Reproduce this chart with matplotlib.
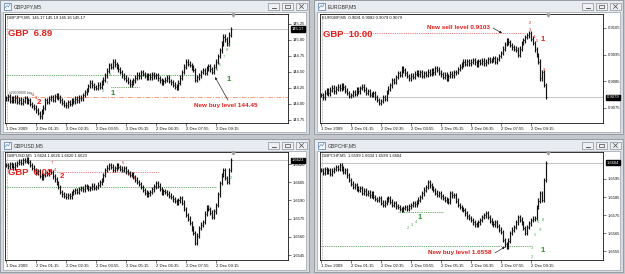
#!/usr/bin/env python3
"""Four MT4 M5 chart windows (GBPJPY, EURGBP, GBPUSD, GBPCHF) with entry-level notes."""

import matplotlib

matplotlib.use("Agg")
import matplotlib.pyplot as plt
import numpy as np
from matplotlib.patches import Rectangle

plt.rcParams["font.family"] = ["Liberation Sans", "DejaVu Sans"]

W, H = 625, 274
INK = "#111111"
RED = "#e3201b"
GREEN = "#2c8c2c"
LIGHT_GREEN = "#4caf50"
SALMON = "#f4a07c"
PRICE_LINE = "#b4b4b4"

TIME_TICKS = [0, 16, 32, 48, 64, 80, 96, 112]
TIME_LABELS = ["1 Dec 2009", "2 Dec 01:15", "2 Dec 02:35", "2 Dec 03:55",
               "2 Dec 05:15", "2 Dec 06:35", "2 Dec 07:55", "2 Dec 09:15"]

# ---- GBPJPY ----
GBPJPY_CLOSE = [
    144.09, 144.12, 144.05, 144.08, 144.06, 144.10, 144.03, 144.07, 144.02, 144.05,
    144.09, 144.04, 144.06, 144.00, 143.97, 143.94, 143.90, 143.86, 143.81, 143.88,
    143.94, 144.06, 144.03, 144.08, 144.11, 144.07, 144.12, 144.14, 144.10, 144.06,
    144.02, 143.99, 143.98, 144.03, 144.00, 144.06, 144.04, 144.08, 144.06, 144.10,
    144.09, 144.14, 144.18, 144.22, 144.28, 144.33, 144.29, 144.26, 144.25, 144.30,
    144.27, 144.33, 144.38, 144.45, 144.52, 144.61, 144.58, 144.66, 144.62, 144.59,
    144.54, 144.50, 144.45, 144.41, 144.38, 144.35, 144.31, 144.33, 144.37, 144.41,
    144.46, 144.43, 144.50, 144.47, 144.44, 144.41, 144.45, 144.42, 144.47, 144.43,
    144.45, 144.40, 144.37, 144.34, 144.36, 144.38, 144.41, 144.36, 144.34, 144.30,
    144.27, 144.25, 144.33, 144.41, 144.50, 144.58, 144.66, 144.63, 144.61, 144.57,
    144.53, 144.38, 144.42, 144.45, 144.50, 144.53, 144.49, 144.55, 144.59, 144.54,
    144.50, 144.58, 144.66, 144.75, 144.84, 144.95, 145.05, 145.01, 144.95, 145.08,
    145.17,
]
GBPJPY_YLIM = (143.703, 145.406)
GBPJPY_TICKS = [145.25, 145.00, 144.75, 144.50, 144.25, 144.00, 143.75]
GBPJPY_LAST = 145.17
GBPJPY_INFO = "GBPJPY,M5  145.17 145.19 145.16 145.17"
GBPJPY_BUY_LEVEL = 144.45
GBPJPY_SETUP_LEVEL = 144.27
GBPJPY_ORDER = 144.11
GBPJPY_MARKS = [  # (bar, price, text, colour, big)
    (57.0, 144.17, "1", "g", True), (119.0, 144.375, "1", "g", True),
    (51.7, 144.21, "2", "lg", False), (53.9, 144.33, "3", "lg", False),
    (55.5, 144.45, "4", "lg", False),
    (112.5, 144.53, "5", "lg", False), (114.0, 144.61, "6", "lg", False),
    (116.0, 144.73, "7", "lg", False), (117.6, 144.84, "8", "lg", False),
    (118.7, 144.92, "9", "lg", False),
    (17.6, 144.02, "2", "r", True), (14.6, 144.14, "4", "r", False),
    (16.0, 144.09, "3", "r", False),
]

# ---- EURGBP ----
EURGBP_CLOSE = [
    0.90799, 0.90790, 0.90808, 0.90815, 0.90805, 0.90818, 0.90826, 0.90812, 0.90822, 0.90830,
    0.90824, 0.90836, 0.90828, 0.90815, 0.90806, 0.90795, 0.90799, 0.90810, 0.90804, 0.90818,
    0.90812, 0.90825, 0.90830, 0.90818, 0.90808, 0.90812, 0.90800, 0.90799, 0.90806, 0.90790,
    0.90780, 0.90769, 0.90776, 0.90790, 0.90785, 0.90810, 0.90822, 0.90835, 0.90855, 0.90848,
    0.90866, 0.90880, 0.90874, 0.90900, 0.90892, 0.90880, 0.90870, 0.90862, 0.90871, 0.90866,
    0.90878, 0.90885, 0.90876, 0.90884, 0.90870, 0.90880, 0.90874, 0.90886, 0.90879, 0.90890,
    0.90884, 0.90900, 0.90893, 0.90882, 0.90876, 0.90868, 0.90875, 0.90862, 0.90870, 0.90878,
    0.90872, 0.90884, 0.90885, 0.90896, 0.90905, 0.90912, 0.90923, 0.90915, 0.90926, 0.90918,
    0.90923, 0.90930, 0.90921, 0.90914, 0.90925, 0.90919, 0.90928, 0.90917, 0.90924, 0.90933,
    0.90926, 0.90930, 0.90936, 0.90923, 0.90934, 0.90945, 0.90956, 0.90972, 0.90990, 0.91005,
    0.90996, 0.90986, 0.90978, 0.90972, 0.90968, 0.90949, 0.90972, 0.90994, 0.91004, 0.91016,
    0.91022, 0.91031, 0.91010, 0.90994, 0.90970, 0.90949, 0.90923, 0.90862, 0.90885, 0.90836,
    0.90791,
]
EURGBP_YLIM = (0.9069375, 0.911025)
EURGBP_TICKS = [0.9105, 0.9095, 0.9085, 0.9075]
EURGBP_LAST = 0.9079
EURGBP_INFO = "EURGBP,M5  0.9081 0.9082 0.9079 0.9079"
EURGBP_SELL_LEVEL = 0.9103
EURGBP_MARKS = [
    (111.5, 0.91069, "2", "r", False), (111.5, 0.91043, "3", "r", False),
    (113.6, 0.91016, "4", "r", False), (115.2, 0.91001, "5", "r", False),
    (118.4, 0.91008, "1", "r", True), (119.0, 0.90893, "9", "r", False),
]

# ---- GBPUSD ----
GBPUSD_CLOSE = [
    1.66192, 1.66180, 1.66200, 1.66190, 1.66172, 1.66195, 1.66208, 1.66220, 1.66212, 1.66233,
    1.66225, 1.66240, 1.66216, 1.66192, 1.66170, 1.66150, 1.66126, 1.66140, 1.66105, 1.66085,
    1.66110, 1.66126, 1.66118, 1.66140, 1.66134, 1.66100, 1.66075, 1.66043, 1.66010, 1.65969,
    1.65950, 1.65940, 1.65928, 1.65945, 1.65935, 1.65961, 1.65975, 1.65986, 1.65970, 1.65995,
    1.66002, 1.65990, 1.66015, 1.66010, 1.65995, 1.66002, 1.66020, 1.66005, 1.66010, 1.66030,
    1.66050, 1.66068, 1.66110, 1.66151, 1.66170, 1.66192, 1.66178, 1.66150, 1.66165, 1.66185,
    1.66175, 1.66160, 1.66150, 1.66165, 1.66140, 1.66126, 1.66110, 1.66118, 1.66093, 1.66070,
    1.66052, 1.66035, 1.66010, 1.65986, 1.65965, 1.65945, 1.65960, 1.65970, 1.65990, 1.66015,
    1.66043, 1.66020, 1.65995, 1.65961, 1.65975, 1.65970, 1.65955, 1.65940, 1.65928, 1.65910,
    1.65895, 1.65879, 1.65900, 1.65920, 1.65880, 1.65830, 1.65780, 1.65750, 1.65714, 1.65670,
    1.65631, 1.65549, 1.65610, 1.65673, 1.65700, 1.65722, 1.65790, 1.65846, 1.65830, 1.65800,
    1.65763, 1.65810, 1.65862, 1.65950, 1.66043, 1.66110, 1.66151, 1.66085, 1.66052, 1.66150,
    1.66230,
]
GBPUSD_YLIM = (1.65409, 1.66299)
GBPUSD_TICKS = [1.6620, 1.6605, 1.6590, 1.6575, 1.6560, 1.6545]
GBPUSD_LAST = 1.6623
GBPUSD_INFO = "GBPUSD,M5  1.6624 1.6626 1.6620 1.6623"
GBPUSD_SELL_LEVEL = 1.66134
GBPUSD_BUY_LEVEL = 1.66010
GBPUSD_MARKS = [
    (29.9, 1.66093, "2", "r", True), (24.5, 1.66208, "7", "r", False),
    (26.1, 1.66151, "4", "r", False), (62.4, 1.66208, "5", "r", False),
    (65.6, 1.66118, "4", "r", False), (68.3, 1.66085, "1", "r", False),
    (120.0, 1.66085, "2", "lg", False),
]

# ---- GBPCHF ----
GBPCHF_CLOSE = [
    1.65999, 1.65985, 1.66005, 1.65989, 1.65998, 1.65980, 1.65995, 1.66005, 1.66016, 1.66005,
    1.66027, 1.66010, 1.65989, 1.65999, 1.65970, 1.65944, 1.65925, 1.65906, 1.65915, 1.65898,
    1.65889, 1.65900, 1.65873, 1.65885, 1.65868, 1.65875, 1.65860, 1.65870, 1.65851, 1.65840,
    1.65834, 1.65845, 1.65820, 1.65806, 1.65820, 1.65835, 1.65845, 1.65825, 1.65806, 1.65815,
    1.65800, 1.65795, 1.65785, 1.65779, 1.65790, 1.65795, 1.65785, 1.65800, 1.65806, 1.65815,
    1.65810, 1.65823, 1.65835, 1.65851, 1.65870, 1.65890, 1.65906, 1.65933, 1.65915, 1.65900,
    1.65889, 1.65875, 1.65862, 1.65870, 1.65855, 1.65845, 1.65835, 1.65830, 1.65823, 1.65873,
    1.65860, 1.65862, 1.65830, 1.65806, 1.65795, 1.65785, 1.65779, 1.65760, 1.65745, 1.65735,
    1.65724, 1.65710, 1.65700, 1.65696, 1.65710, 1.65724, 1.65740, 1.65750, 1.65762, 1.65740,
    1.65720, 1.65707, 1.65700, 1.65713, 1.65690, 1.65670, 1.65657, 1.65613, 1.65590, 1.65575,
    1.65610, 1.65652, 1.65670, 1.65685, 1.65710, 1.65740, 1.65725, 1.65707, 1.65680, 1.65652,
    1.65685, 1.65705, 1.65724, 1.65730, 1.65735, 1.65795, 1.65830, 1.65873, 1.65834, 1.65944,
    1.66038,
]
GBPCHF_YLIM = (1.65503, 1.66099)
GBPCHF_TICKS = [1.6595, 1.6585, 1.6575, 1.6565, 1.6555]
GBPCHF_LAST = 1.6604
GBPCHF_INFO = "GBPCHF,M5  1.6599 1.6604 1.6599 1.6604"
GBPCHF_BUY_LEVEL = 1.6558
GBPCHF_SETUP_LEVEL = 1.65768
GBPCHF_MARKS = [
    (52.8, 1.65740, "1", "g", True), (46.4, 1.65680, "2", "lg", False),
    (48.5, 1.65696, "3", "lg", False), (50.7, 1.65713, "4", "lg", False),
    (112.5, 1.65518, "2", "lg", False), (112.5, 1.65569, "3", "lg", False),
    (114.1, 1.65641, "5", "lg", False), (115.7, 1.65713, "6", "lg", False),
    (116.8, 1.65668, "9", "lg", False), (118.4, 1.65724, "8", "lg", False),
    (118.4, 1.65558, "1", "g", True),
]

MARK_COLORS = {"r": RED, "g": GREEN, "lg": LIGHT_GREEN}


def draw_window(bg, box, title):
    x0, y0, x1, y1 = box
    bg.add_patch(Rectangle((x0, y0), x1 - x0, y1 - y0, fc="#d8dce1", ec="#8d949c", lw=0.6))
    bg.add_patch(Rectangle((x0 + 0.6, y0 + 0.6), x1 - x0 - 1.2, 11.2, fc="#e8ecf1", ec="none"))
    bg.add_patch(Rectangle((x0 + 3, y0 + 12), x1 - x0 - 6, y1 - y0 - 14.5,
                           fc="white", ec="#9aa1a9", lw=0.5))
    bg.add_patch(Rectangle((x0 + 4, y0 + 2.5), 7, 7, fc="#f4f7fb", ec="#4f79a8", lw=0.5))
    bg.plot([x0 + 5, x0 + 7, x0 + 8.5, x0 + 10], [y0 + 8, y0 + 5.5, y0 + 7, y0 + 4],
            color="#4f79a8", lw=0.4)
    bg.text(x0 + 14, y0 + 6.3, title, fontsize=3.7, color="#333333", va="center", ha="left")
    for bx in (x1 - 41, x1 - 27, x1 - 13):
        bg.add_patch(Rectangle((bx, y0 + 3), 11, 7, fc="#eef0f3", ec="#7e858d", lw=0.45))
    m = x1 - 35.5
    bg.plot([m - 2, m + 2], [y0 + 8, y0 + 8], color="#444444", lw=0.6)
    bg.add_patch(Rectangle((x1 - 24, y0 + 4.6), 5, 3.8, fc="none", ec="#444444", lw=0.5))
    c = x1 - 7.5
    bg.plot([c - 2, c + 2], [y0 + 4.5, y0 + 8.5], color="#444444", lw=0.5)
    bg.plot([c - 2, c + 2], [y0 + 8.5, y0 + 4.5], color="#444444", lw=0.5)


def setup_chart(fig, box, closes, ylim, ticks, fmt, last, info):
    x0, y0, x1, y1 = box
    ax = fig.add_axes([x0 / W, 1 - y1 / H, (x1 - x0) / W, (y1 - y0) / H])
    ax.set_facecolor("white")
    ax.set_xlim(-0.5, 150.4)
    ax.set_ylim(*ylim)
    for sp in ax.spines.values():
        sp.set_color(INK)
        sp.set_linewidth(0.6)

    ax.yaxis.tick_right()
    ax.set_yticks(ticks, [fmt.format(t) for t in ticks])
    ax.tick_params(axis="y", length=2, width=0.4, labelsize=3.0, pad=1.2, colors=INK)
    ax.set_xticks(TIME_TICKS, TIME_LABELS, ha="left")
    ax.tick_params(axis="x", length=2, width=0.4, labelsize=3.1, pad=1.0, colors=INK)

    # period separator + current price line
    ax.axvline(0.5, color="#8a8a8a", ls=(0, (1, 1.2)), lw=0.5, zorder=1)
    ax.axhline(last, color=PRICE_LINE, lw=0.55, zorder=1)

    c = np.asarray(closes, dtype=float)
    o = np.r_[c[0], c[:-1]]
    pad = 0.022 * (ylim[1] - ylim[0])
    x = np.arange(len(c))
    ax.vlines(x, np.minimum(o, c) - pad, np.maximum(o, c) + pad, color=INK, lw=0.85, zorder=2)
    ax.hlines(c, x, x + 0.55, color=INK, lw=0.5, zorder=2)
    ax.hlines(o, x - 0.55, x, color="#555555", lw=0.4, zorder=2)

    ax.text(1.012, last, fmt.format(last), transform=ax.get_yaxis_transform(),
            fontsize=3.0, color="white", va="center", ha="left", clip_on=False,
            bbox=dict(fc="black", ec="black", boxstyle="square,pad=0.18"))
    ax.text(0.008, 0.985, info, transform=ax.transAxes, fontsize=3.0, color=INK,
            va="top", ha="left")
    ax.plot([121], [ylim[1] - 0.012 * (ylim[1] - ylim[0])], marker="v", ms=2.2,
            color="#9a9a9a", clip_on=False, zorder=3)
    return ax


def put_marks(ax, marks):
    for i, p, t, col, big in marks:
        ax.text(i, p, t, color=MARK_COLORS[col], fontsize=5.6 if big else 3.0,
                fontweight="bold" if big else "normal", ha="center", va="center", zorder=4)


def level_note(ax, x, y, text, tail, tip):
    ax.text(x, y, text, color=RED, fontsize=4.6, fontweight="bold", ha="center",
            va="center", zorder=4)
    ax.annotate("", xy=tip, xytext=tail, zorder=4,
                arrowprops=dict(arrowstyle="-|>", lw=0.45, color=INK, mutation_scale=3,
                                shrinkA=0, shrinkB=0))


def big_gbp(ax, i, p, text):
    ax.text(i, p, text, color=RED, fontsize=6.8, fontweight="bold", ha="left",
            va="center", zorder=4)


def main():
    fig = plt.figure(figsize=(W / 100, H / 100), dpi=100, facecolor="#c3c7cc")
    bg = fig.add_axes([0, 0, 1, 1])
    bg.set_xlim(0, W)
    bg.set_ylim(H, 0)
    bg.axis("off")
    draw_window(bg, (0, 0, 309, 134), "GBPJPY,M5")
    draw_window(bg, (314, 0, 623, 134), "EURGBP,M5")
    draw_window(bg, (0, 139, 309, 272), "GBPUSD,M5")
    draw_window(bg, (314, 139, 623, 272), "GBPCHF,M5")

    # GBPJPY
    ax = setup_chart(fig, (5, 14, 288, 123), GBPJPY_CLOSE, GBPJPY_YLIM, GBPJPY_TICKS,
                     "{:.2f}", GBPJPY_LAST, GBPJPY_INFO)
    ax.hlines(GBPJPY_BUY_LEVEL, 0, 104, color=GREEN, ls=(0, (1, 1.2)), lw=0.6, zorder=1)
    ax.hlines(GBPJPY_SETUP_LEVEL, 56, 71, color=GREEN, ls=(0, (1, 1.2)), lw=0.6, zorder=1)
    ax.axhline(GBPJPY_ORDER, color=SALMON, ls=(0, (5, 1.5, 1, 1.5)), lw=0.7, zorder=1)
    ax.text(1.6, GBPJPY_ORDER + 0.06, "#20000000 buy", fontsize=2.4, color="#444444",
            ha="left", va="center", zorder=4)
    big_gbp(ax, 1.1, 145.094, "GBP  6.89")
    level_note(ax, 117.3, 143.97, "New buy level 144.45", (118.4, 144.06), (111.5, 144.42))
    put_marks(ax, GBPJPY_MARKS)

    # EURGBP
    ax = setup_chart(fig, (320, 14, 603, 123), EURGBP_CLOSE, EURGBP_YLIM, EURGBP_TICKS,
                     "{:.4f}", EURGBP_LAST, EURGBP_INFO)
    ax.hlines(EURGBP_SELL_LEVEL, 2, 109, color="#e05050", ls=(0, (1, 1.2)), lw=0.6, zorder=1)
    big_gbp(ax, 1.1, 0.91027, "GBP  10.00")
    level_note(ax, 73.6, 0.91050, "New sell level 0.9103", (91.7, 0.91050), (96.5, 0.91031))
    put_marks(ax, EURGBP_MARKS)

    # GBPUSD
    ax = setup_chart(fig, (5, 152, 288, 260), GBPUSD_CLOSE, GBPUSD_YLIM, GBPUSD_TICKS,
                     "{:.4f}", GBPUSD_LAST, GBPUSD_INFO)
    ax.hlines(GBPUSD_SELL_LEVEL, 24, 81, color="#e05050", ls=(0, (1, 1.2)), lw=0.6, zorder=1)
    ax.hlines(GBPUSD_BUY_LEVEL, 0, 112, color=GREEN, ls=(0, (1, 1.2)), lw=0.6, zorder=1)
    big_gbp(ax, 1.1, 1.66134, "GBP  6.02")
    put_marks(ax, GBPUSD_MARKS)

    # GBPCHF
    ax = setup_chart(fig, (320, 152, 603, 260), GBPCHF_CLOSE, GBPCHF_YLIM, GBPCHF_TICKS,
                     "{:.4f}", GBPCHF_LAST, GBPCHF_INFO)
    ax.hlines(GBPCHF_BUY_LEVEL, 0, 112, color=GREEN, ls=(0, (1, 1.2)), lw=0.6, zorder=1)
    ax.hlines(GBPCHF_SETUP_LEVEL, 41, 65, color=GREEN, ls=(0, (1, 1.2)), lw=0.6, zorder=1)
    level_note(ax, 74.0, 1.65542, "New buy level 1.6558", (92.8, 1.65542), (98.1, 1.65575))
    put_marks(ax, GBPCHF_MARKS)

    fig.savefig("out.png", dpi=100, facecolor=fig.get_facecolor())
    plt.close(fig)


if __name__ == "__main__":
    main()
